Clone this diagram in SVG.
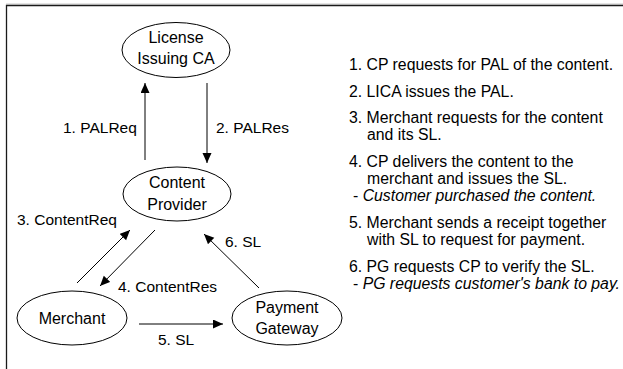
<svg xmlns="http://www.w3.org/2000/svg" width="623" height="369" viewBox="0 0 623 369">
<style>
.node ellipse{fill:#fff;stroke:#000;stroke-width:1}
.nt{font-family:"Liberation Sans",Arial,sans-serif;font-size:16px;fill:#000;text-anchor:middle}
.lbl{font-family:"Liberation Sans",Arial,sans-serif;font-size:15.5px;fill:#000}
.rt{font-family:"Liberation Sans",Arial,sans-serif;font-size:15.8px;fill:#000}
.it{font-style:italic}
.edge{stroke:#000;stroke-width:1;fill:none;marker-end:url(#ah)}
</style>
<defs>
<marker id="ah" markerUnits="userSpaceOnUse" markerWidth="12" markerHeight="10" refX="10" refY="4.5" orient="auto">
<path d="M0,0 L10,4.5 L0,9 Z" fill="#000"/>
</marker>
</defs>
<rect width="623" height="369" fill="#fff"/>
<line x1="6" y1="4" x2="623" y2="4" stroke="#c8c8c8" stroke-width="1"/>
<path d="M6.5,369 V5.5 H623" fill="none" stroke="#1a1a1a" stroke-width="1.3"/>

<g id="lica" class="node">
<ellipse cx="176" cy="50" rx="54" ry="27.5"/>
<text class="nt" x="176" y="43">License</text>
<text class="nt" x="176" y="64">Issuing CA</text>
</g>
<g id="cp" class="node">
<ellipse cx="177" cy="194" rx="54" ry="27"/>
<text class="nt" x="177" y="188">Content</text>
<text class="nt" x="177" y="210">Provider</text>
</g>
<g id="merchant" class="node">
<ellipse cx="72" cy="318" rx="55" ry="27"/>
<text class="nt" x="72" y="324">Merchant</text>
</g>
<g id="pg" class="node">
<ellipse cx="287" cy="318" rx="55" ry="27"/>
<text class="nt" x="287" y="313">Payment</text>
<text class="nt" x="287" y="334">Gateway</text>
</g>

<g id="connectors">
<line class="edge" x1="145" y1="160" x2="145" y2="83"/>
<line class="edge" x1="207" y1="83" x2="207" y2="163"/>
<line class="edge" x1="77" y1="283" x2="130" y2="230"/>
<line class="edge" x1="155" y1="230" x2="100" y2="286"/>
<line class="edge" x1="139" y1="324" x2="223" y2="324"/>
<line class="edge" x1="259" y1="288" x2="204" y2="234"/>
<text class="lbl" x="63" y="133">1. PALReq</text>
<text class="lbl" x="216" y="133">2. PALRes</text>
<text class="lbl" x="17" y="225">3. ContentReq</text>
<text class="lbl" x="118" y="292">4. ContentRes</text>
<text class="lbl" x="158" y="345">5. SL</text>
<text class="lbl" x="225" y="247">6. SL</text>
</g>

<g id="steps">
<text class="rt" x="349" y="70">1. CP requests for PAL of the content.</text>
<text class="rt" x="349" y="97">2. LICA issues the PAL.</text>
<text class="rt" x="349" y="123">3. Merchant requests for the content</text>
<text class="rt" x="367" y="140">and its SL.</text>
<text class="rt" x="349" y="167">4. CP delivers the content to the</text>
<text class="rt" x="367" y="184">merchant and issues the SL.</text>
<text class="rt" x="353" y="201">- <tspan class="it">Customer purchased the content.</tspan></text>
<text class="rt" x="349" y="228">5. Merchant sends a receipt together</text>
<text class="rt" x="367" y="245">with SL to request for payment.</text>
<text class="rt" x="349" y="272">6. PG requests CP to verify the SL.</text>
<text class="rt" x="353" y="289">- <tspan class="it">PG requests customer's bank to pay.</tspan></text>
</g>
</svg>
